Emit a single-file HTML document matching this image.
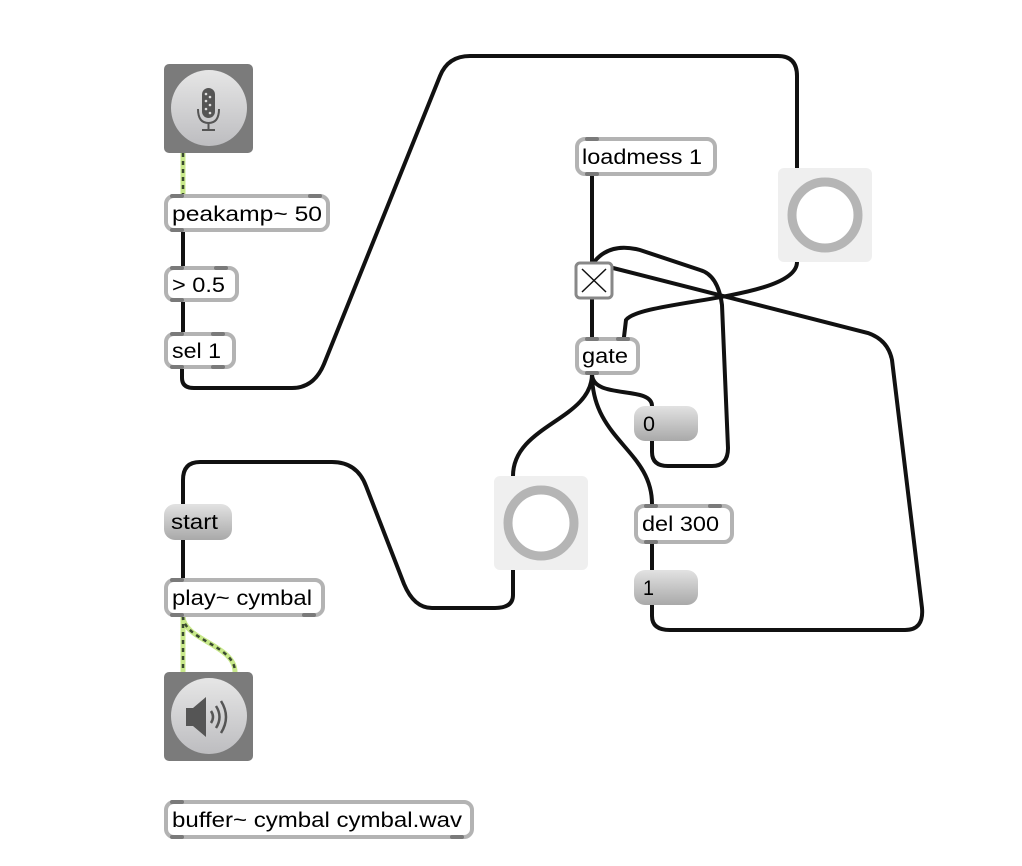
<!DOCTYPE html>
<html><head><meta charset="utf-8"><style>
html,body{margin:0;padding:0;background:#fff;width:1022px;height:866px;overflow:hidden}
svg{display:block}
text{font-family:"Liberation Sans",Arial,sans-serif;font-size:21px;fill:#000}
</style></head><body>
<svg width="1022" height="866" viewBox="0 0 1022 866">
<defs>
<linearGradient id="msg" x1="0" y1="0" x2="0" y2="1"><stop offset="0" stop-color="#e2e2e2"/><stop offset="1" stop-color="#a9a9a9"/></linearGradient>
<linearGradient id="circ" x1="0" y1="0" x2="0" y2="1"><stop offset="0" stop-color="#e6e6e6"/><stop offset="1" stop-color="#bdbdc0"/></linearGradient>
</defs>
<g fill="none" stroke="#111" stroke-width="4" stroke-linecap="round">
<path d="M182,368 L182,378 Q182,388 194,388 L292,388 Q314,388 324,364 L440,76 Q448,56 470,56 L778,56 Q797,56 797,76 L797,168"/>
<line x1="183" y1="231" x2="183" y2="266"/>
<line x1="183" y1="301" x2="183" y2="332"/>
<line x1="592" y1="175" x2="592" y2="262"/>
<line x1="592" y1="299" x2="592" y2="337"/>
<path d="M797,262 C797,300 640,300 626,320 L624,337"/>
<path d="M652,441 L652,452 Q652,466 668,466 L712,466 Q728,466 728,448 L722,305 Q718,275 700,270 L640,250 Q610,242 594,262"/>
<path d="M652,605 L652,616 Q652,630 670,630 L905,630 Q924,630 922,608 L892,360 Q888,340 868,333 L613,268"/>
<path d="M592,374 C592,420 513,425 513,476"/>
<path d="M592,374 C592,400 652,385 652,406"/>
<path d="M592,374 C592,440 652,450 652,504"/>
<line x1="652" y1="543" x2="652" y2="570"/>
<path d="M513,570 L513,595 Q513,608 495,608 L432,608 Q414,608 404,584 L366,486 Q357,462 332,462 L200,462 Q183,462 183,480 L183,504"/>
<line x1="183" y1="540" x2="183" y2="578"/>
</g>
<g fill="none" stroke-linecap="butt">
<g stroke="#c8e88a" stroke-width="5">
<line x1="183" y1="153" x2="183" y2="194"/>
<line x1="183" y1="616" x2="183" y2="672"/>
<path d="M183,616 C183,640 235,645 235,672"/>
</g>
<g stroke="#3a4a30" stroke-width="2.5" stroke-dasharray="4 4">
<line x1="183" y1="153" x2="183" y2="194"/>
<line x1="183" y1="616" x2="183" y2="672"/>
<path d="M183,616 C183,640 235,645 235,672"/>
</g>
</g>
<rect x="164" y="64" width="89" height="89" rx="5" fill="#7b7b7b"/>
<circle cx="209" cy="108" r="38" fill="url(#circ)"/>
<rect x="202" y="88" width="13" height="30" rx="6.5" fill="#555"/>
<g fill="#ddd"><circle cx="206" cy="94" r="1.3"/><circle cx="210" cy="97" r="1.3"/><circle cx="206" cy="101" r="1.3"/><circle cx="210" cy="105" r="1.3"/><circle cx="206" cy="109" r="1.3"/><circle cx="210" cy="113" r="1.3"/></g>
<path d="M198,109 Q198,123 208.5,123 Q219,123 219,109" fill="none" stroke="#555" stroke-width="2"/>
<line x1="208.5" y1="123" x2="208.5" y2="130" stroke="#555" stroke-width="2"/>
<line x1="202" y1="130" x2="215" y2="130" stroke="#555" stroke-width="2"/>
<rect x="164" y="672" width="89" height="89" rx="5" fill="#7b7b7b"/>
<circle cx="209" cy="716" r="38" fill="url(#circ)"/>
<path d="M186,708 L193,708 L206,697 L206,737 L193,726 L186,726 Z" fill="#555"/>
<g fill="none" stroke="#555" stroke-width="2.5"><path d="M211,711 Q215,717 211,723"/><path d="M216,706 Q223,717 216,728"/><path d="M221,701 Q231,717 221,733"/></g>
<g fill="#fff" stroke="#b3b3b3" stroke-width="4">
<rect x="166" y="196" width="162" height="34" rx="8"/>
<rect x="166" y="268" width="71" height="32" rx="8"/>
<rect x="166" y="334" width="68" height="33" rx="8"/>
<rect x="577" y="139" width="138" height="35" rx="8"/>
<rect x="577" y="339" width="61" height="34" rx="8"/>
<rect x="636" y="506" width="96" height="36" rx="8"/>
<rect x="166" y="580" width="157" height="35" rx="8"/>
<rect x="166" y="802" width="306" height="35" rx="8"/>
</g>
<g fill="#7a7a7a">
<rect x="170" y="194" width="14" height="4" rx="2"/><rect x="308" y="194" width="14" height="4" rx="2"/><rect x="170" y="228" width="14" height="4" rx="2"/>
<rect x="170" y="266" width="14" height="4" rx="2"/><rect x="214" y="266" width="14" height="4" rx="2"/><rect x="170" y="298" width="14" height="4" rx="2"/>
<rect x="170" y="332" width="14" height="4" rx="2"/><rect x="211" y="332" width="14" height="4" rx="2"/><rect x="170" y="365" width="14" height="4" rx="2"/><rect x="211" y="365" width="14" height="4" rx="2"/>
<rect x="585" y="137" width="14" height="4" rx="2"/><rect x="585" y="172" width="14" height="4" rx="2"/>
<rect x="585" y="337" width="14" height="4" rx="2"/><rect x="616" y="337" width="14" height="4" rx="2"/><rect x="585" y="371" width="14" height="4" rx="2"/>
<rect x="644" y="504" width="14" height="4" rx="2"/><rect x="708" y="504" width="14" height="4" rx="2"/><rect x="644" y="540" width="14" height="4" rx="2"/>
<rect x="170" y="578" width="14" height="4" rx="2"/><rect x="170" y="613" width="14" height="4" rx="2"/><rect x="302" y="613" width="14" height="4" rx="2"/>
<rect x="170" y="800" width="14" height="4" rx="2"/><rect x="170" y="835" width="14" height="4" rx="2"/><rect x="450" y="835" width="14" height="4" rx="2"/>
</g>
<g fill="url(#msg)">
<rect x="164" y="504" width="68" height="36" rx="11"/>
<rect x="634" y="406" width="64" height="35" rx="11"/>
<rect x="634" y="570" width="64" height="35" rx="11"/>
</g>
<rect x="576" y="263" width="36" height="35" rx="4" fill="#fff" stroke="#888" stroke-width="3"/>
<g stroke="#111" stroke-width="1.5"><line x1="582" y1="269" x2="606" y2="292"/><line x1="606" y1="269" x2="582" y2="292"/></g>
<rect x="778" y="168" width="94" height="94" rx="6" fill="#efefef"/>
<circle cx="825" cy="215" r="33" fill="#fff" stroke="#b5b5b5" stroke-width="9"/>
<rect x="494" y="476" width="94" height="94" rx="6" fill="#efefef"/>
<circle cx="541" cy="523" r="33" fill="#fff" stroke="#b5b5b5" stroke-width="9"/>
<text x="172" y="221" textLength="150" lengthAdjust="spacingAndGlyphs">peakamp~ 50</text>
<text x="172" y="292" textLength="53" lengthAdjust="spacingAndGlyphs">&gt; 0.5</text>
<text x="172" y="358" textLength="49" lengthAdjust="spacingAndGlyphs">sel 1</text>
<text x="582" y="164" textLength="120" lengthAdjust="spacingAndGlyphs">loadmess 1</text>
<text x="582" y="363" textLength="46" lengthAdjust="spacingAndGlyphs">gate</text>
<text x="643" y="431" textLength="12" lengthAdjust="spacingAndGlyphs">0</text>
<text x="642" y="531" textLength="77" lengthAdjust="spacingAndGlyphs">del 300</text>
<text x="643" y="595" textLength="11" lengthAdjust="spacingAndGlyphs">1</text>
<text x="171" y="529" textLength="47" lengthAdjust="spacingAndGlyphs">start</text>
<text x="172" y="605" textLength="140" lengthAdjust="spacingAndGlyphs">play~ cymbal</text>
<text x="172" y="827" textLength="290" lengthAdjust="spacingAndGlyphs">buffer~ cymbal cymbal.wav</text>
</svg>
</body></html>
